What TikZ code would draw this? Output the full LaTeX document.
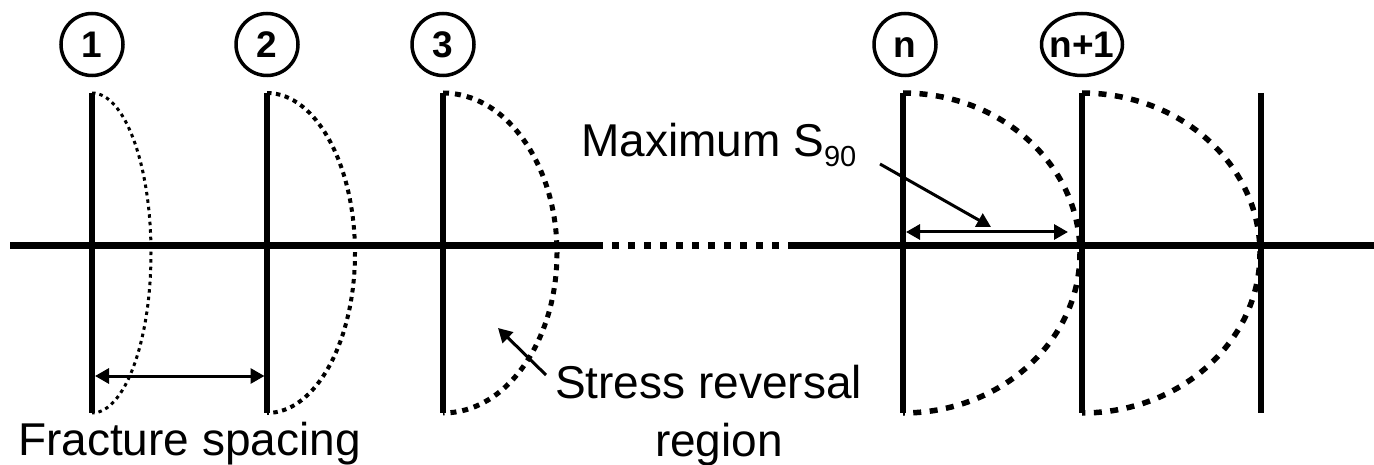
\documentclass[tikz,border=0pt]{standalone}
\usepackage{fontspec}
\setmainfont{Liberation Sans}
\usetikzlibrary{arrows.meta,shapes.geometric}
\begin{document}
\begin{tikzpicture}[x=1pt,y=1pt,
  fracline/.style={line width=5.5pt},
  mainline/.style={line width=7pt},
  zoneA/.style={line width=3pt, dash pattern=on 3.5pt off 4pt},
  zoneB/.style={line width=4pt, dash pattern=on 4.5pt off 4.5pt},
  zoneC/.style={line width=5pt, dash pattern=on 6pt off 6pt},
  zoneD/.style={line width=5.5pt, dash pattern=on 8pt off 8.5pt},
  tip/.tip={Triangle[length=14pt,width=15pt]},
  dimline/.style={line width=3pt, tip-tip},
  leader/.style={line width=3pt, -tip},
  txt/.style={font=\fontsize{46}{55}\selectfont, inner sep=0pt},
  fracnum/.style={draw, circle, line width=3.5pt, minimum size=62pt, inner sep=0pt,
    text height=26.5pt, text depth=0pt,
    font=\fontsize{37}{37}\selectfont\bfseries}
]
\useasboundingbox (0,0) rectangle (1374,-465);

% fracture tops and bottoms
\foreach \name/\x in {1/92, 2/267, 3/443, n/903, m/1082, q/1261}{
  \coordinate (t\name) at (\x,-93);
  \coordinate (b\name) at (\x,-413);
}

% wellbore line, with a dotted gap
\coordinate (hl) at (10,-245.5);
\coordinate (hd1) at (603,-245.5);
\coordinate (hd2) at (795,-245.5);
\coordinate (hr) at (1374,-245.5);
\draw[mainline] (hl) -- (hd1);
\draw[mainline, dash pattern=on 7pt off 9pt, dash phase=7pt] (hd1) -- (hd2);
\draw[mainline] (hd2) -- (hr);

% fractures
\foreach \name in {1,2,3,n,m,q}{
  \draw[fracline] (t\name) -- (b\name);
}

% stress reversal regions
\draw[zoneA] (t1) arc[start angle=90, end angle=-90, x radius=59, y radius=160];
\draw[zoneB] (t2) arc[start angle=90, end angle=-90, x radius=88, y radius=160];
\draw[zoneC] (t3) arc[start angle=90, end angle=-90, x radius=114, y radius=160];
\draw[zoneD] (tn) arc[start angle=90, end angle=-90, x radius=177, y radius=160];
\draw[zoneD] (tm) arc[start angle=90, end angle=-90, x radius=178, y radius=160];

% fracture numbers
\node[fracnum] (c1) at (92,-44.5) {1};
\node[fracnum] (c2) at (267,-44.5) {2};
\node[fracnum] (c3) at (443,-44.5) {3};
\node[fracnum] (cn) at (905,-44.5) {n};
\node[fracnum, ellipse, minimum width=81pt] (cm) at (1082,-44.5) {\makebox[0pt]{n+1}};

% fracture spacing
\coordinate (fsa) at (95,-376);
\coordinate (fsb) at (264.5,-376);
\draw[dimline] (fsa) -- (fsb);
\node[txt, anchor=base west] (fs) at (18,-455) {Fracture spacing};

% stress reversal label
\node[txt, anchor=base west] (sr1) at (555,-398) {Stress reversal};
\node[txt, anchor=base] (sr2) at (719,-456) {region};
\coordinate (sra) at (546,-375);
\coordinate (srb) at (498,-328);
\draw[leader] (sra) -- (srb);

% maximum S90
\node[txt, anchor=base west] (ms) at (581,-157)
  {Maximum S\raisebox{-10pt}{\fontsize{29}{29}\selectfont 90}};
\coordinate (msa) at (880,-164);
\coordinate (msb) at (991,-227);
\draw[leader] (msa) -- (msb);
\coordinate (mda) at (906,-232);
\coordinate (mdb) at (1068,-232);
\draw[dimline] (mda) -- (mdb);
\end{tikzpicture}
\end{document}
